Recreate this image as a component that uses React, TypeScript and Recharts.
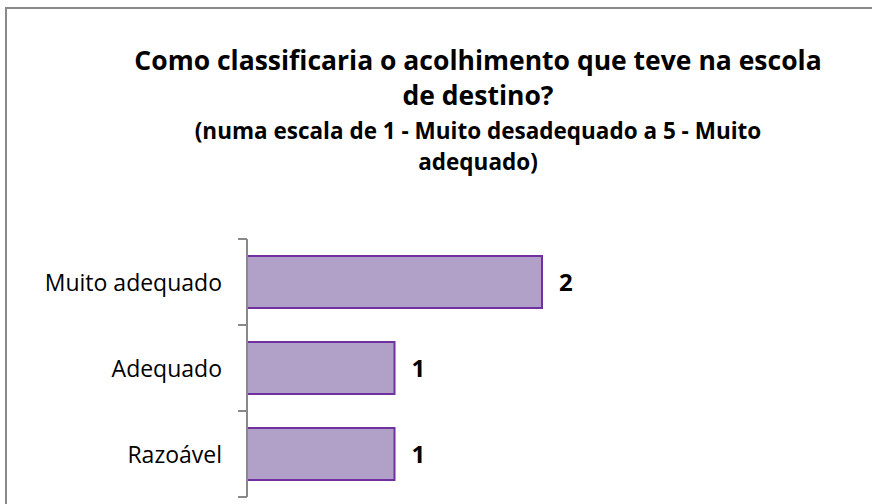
import React from 'react';
import { BarChart, Bar, XAxis, YAxis, LabelList } from 'recharts';

const categories = ['Muito adequado', 'Adequado', 'Razoável'];
const values = [2, 1, 1];
const titleLines = ['Como classificaria o acolhimento que teve na escola', 'de destino?'];
const subtitleLines = ['(numa escala de 1 - Muito desadequado a 5 - Muito', 'adequado)'];

const data = categories.map((c, i) => ({ name: c, value: values[i] }));

const FONT = '"Open Sans", sans-serif';
const PLOT_TOP = 239;
const PLOT_BOTTOM = 497;
const BAND = (PLOT_BOTTOM - PLOT_TOP) / categories.length;

const CatTick = (props: any) => {
  const { x, y, payload, index } = props;
  const axisX = x + 31;
  return (
    <g>
      <line x1={axisX - 9} x2={axisX} y1={y - BAND / 2} y2={y - BAND / 2} stroke="#898989" strokeWidth={2} />
      {index === categories.length - 1 && (
        <line x1={axisX - 9} x2={axisX} y1={y + BAND / 2} y2={y + BAND / 2} stroke="#898989" strokeWidth={2} />
      )}
      <text x={axisX - 25} y={y} textAnchor="end" dominantBaseline="central" fontFamily={FONT} fontSize={23} fill="#000">
        {payload.value}
      </text>
    </g>
  );
};

export default function App() {
  return (
    <div style={{ position: 'fixed', left: 0, top: 0, width: 872, height: 504, overflow: 'hidden', background: '#fff' }}>
      <style>{'html,body{margin:0;padding:0;overflow:hidden;}'}</style>
      <svg style={{ position: 'absolute', left: 0, top: 0 }} width={872} height={504}>
        <line x1={6} x2={872} y1={8} y2={8} stroke="#898989" strokeWidth={2} />
        <line x1={6} x2={6} y1={7} y2={504} stroke="#898989" strokeWidth={2} />
        {titleLines.map((t, i) => (
          <text key={t} x={478} y={60 + i * 35} textAnchor="middle" dominantBaseline="central" fontFamily={FONT} fontWeight="bold" fontSize={26.5} fill="#000">
            {t}
          </text>
        ))}
        {subtitleLines.map((t, i) => (
          <text key={t} x={478} y={130 + i * 31} textAnchor="middle" dominantBaseline="central" fontFamily={FONT} fontWeight="bold" fontSize={22.5} fill="#000">
            {t}
          </text>
        ))}
      </svg>
      <div style={{ position: 'absolute', left: 0, top: 0 }}>
        <BarChart
          width={872}
          height={504}
          data={data}
          layout="vertical"
          margin={{ top: PLOT_TOP, bottom: 504 - PLOT_BOTTOM, left: 0, right: 330 }}
        >
          <XAxis type="number" domain={[0, 2]} hide />
          <YAxis
            type="category"
            dataKey="name"
            width={247}
            tickLine={false}
            axisLine={{ stroke: '#898989', strokeWidth: 2 }}
            tick={<CatTick />}
            tickMargin={25}
            interval={0}
          />
          <Bar dataKey="value" fill="#B1A0C7" stroke="#7030A0" strokeWidth={2} barSize={52} isAnimationActive={false}>
            <LabelList dataKey="value" position="right" offset={17} fontFamily={FONT} fontWeight="bold" fontSize={24} fill="#000" />
          </Bar>
        </BarChart>
      </div>
    </div>
  );
}
